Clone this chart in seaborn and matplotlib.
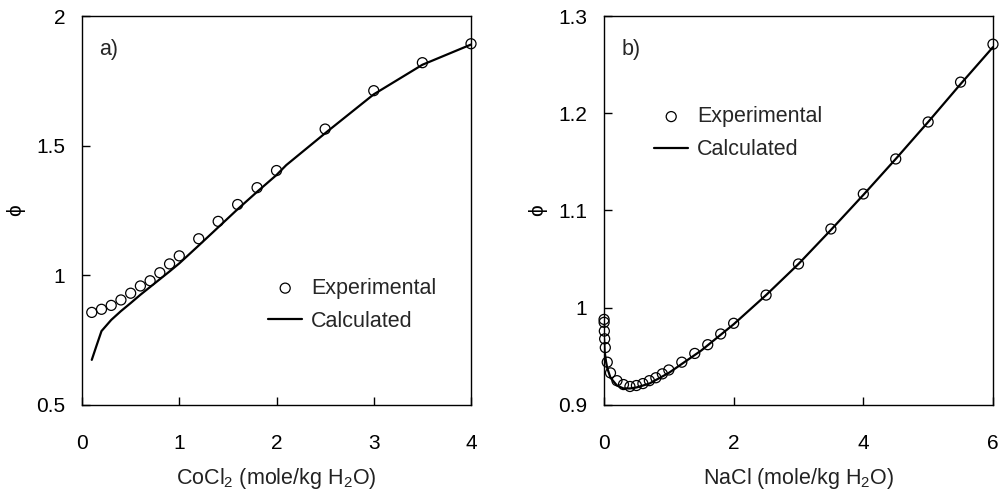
import numpy as np
import pandas as pd
import matplotlib
matplotlib.use("Agg")
import matplotlib.pyplot as plt
import seaborn as sns

# CoCl2 osmotic coefficient
cocl2_exp_m = [0.1, 0.2, 0.3, 0.4, 0.5, 0.6, 0.7, 0.8, 0.9, 1.0,
               1.2, 1.4, 1.6, 1.8, 2.0, 2.5, 3.0, 3.5, 4.0]
cocl2_exp_phi = [0.857, 0.869, 0.884, 0.905, 0.931, 0.959, 0.979, 1.010, 1.044, 1.075,
                 1.141, 1.208, 1.273, 1.338, 1.404, 1.564, 1.712, 1.820, 1.893]
cocl2_calc_m = [0.1, 0.15, 0.2, 0.3, 0.4, 0.5, 0.6, 0.7, 0.8, 0.9, 1.0,
                1.2, 1.4, 1.6, 1.8, 2.0, 2.1, 2.5, 3.0, 3.5, 4.0]
cocl2_calc_phi = [0.674, 0.730, 0.785, 0.828, 0.862, 0.893, 0.925, 0.955, 0.985, 1.015, 1.046,
                  1.115, 1.185, 1.255, 1.322, 1.387, 1.425, 1.548, 1.698, 1.812, 1.890]

# NaCl osmotic coefficient
nacl_exp_m = [0.001, 0.002, 0.005, 0.01, 0.02, 0.05, 0.1, 0.2, 0.3, 0.4, 0.5, 0.6, 0.7,
              0.8, 0.9, 1.0, 1.2, 1.4, 1.6, 1.8, 2.0, 2.5, 3.0, 3.5, 4.0, 4.5, 5.0, 5.5, 6.0]
nacl_exp_phi = [0.988, 0.985, 0.976, 0.968, 0.959, 0.944, 0.933, 0.925, 0.921, 0.919, 0.920,
                0.922, 0.925, 0.928, 0.932, 0.936, 0.944, 0.953, 0.962, 0.973, 0.984,
                1.013, 1.045, 1.081, 1.117, 1.153, 1.191, 1.232, 1.271]
nacl_calc_m = [0.001, 0.01, 0.03, 0.05, 0.1, 0.2, 0.3, 0.4, 0.5, 0.7, 1.0, 1.5,
               2.0, 2.5, 3.0, 3.5, 4.0, 4.5, 5.0, 5.5, 6.0]
nacl_calc_phi = [0.968, 0.955, 0.945, 0.938, 0.928, 0.920, 0.917, 0.917, 0.918, 0.922, 0.933, 0.956,
                 0.983, 1.013, 1.045, 1.080, 1.116, 1.153, 1.191, 1.230, 1.268]

sns.set_theme(style="white")
plt.rcParams["font.family"] = ["Liberation Sans", "DejaVu Sans"]
plt.rcParams["font.size"] = 15
plt.rcParams["mathtext.default"] = "regular"

fig = plt.figure(figsize=(10.03, 4.91), dpi=100)
ax_a = fig.add_axes([0.0818, 0.1752, 0.3878, 0.7922])
ax_b = fig.add_axes([0.6022, 0.1752, 0.3878, 0.7922])

panels = [
    (ax_a, cocl2_exp_m, cocl2_exp_phi, cocl2_calc_m, cocl2_calc_phi,
     (0, 4), (0.5, 2.0), [0, 1, 2, 3, 4], [0.5, 1.0, 1.5, 2.0], ["0.5", "1", "1.5", "2"],
     "a)", r"CoCl$_{2}$ (mole/kg H$_{2}$O)", (0.478, 0.327)),
    (ax_b, nacl_exp_m, nacl_exp_phi, nacl_calc_m, nacl_calc_phi,
     (0, 6), (0.9, 1.3), [0, 2, 4, 6], [0.9, 1.0, 1.1, 1.2, 1.3], ["0.9", "1", "1.1", "1.2", "1.3"],
     "b)", r"NaCl (mole/kg H$_{2}$O)", (0.1285, 0.768)),
]

for (ax, xe, ye, xc, yc, xlim, ylim, xt, yt, ytl, tag, xlabel, legpos) in panels:
    exp_df = pd.DataFrame({"m": xe, "phi": ye})
    calc_df = pd.DataFrame({"m": xc, "phi": yc})
    sns.lineplot(data=calc_df, x="m", y="phi", ax=ax, color="black", lw=1.6,
                 label="Calculated", zorder=2)
    sns.scatterplot(data=exp_df, x="m", y="phi", ax=ax, marker="o", s=52,
                    facecolor="none", edgecolor="black", linewidth=0.9,
                    label="Experimental", zorder=3, clip_on=False)
    ax.set_xlim(*xlim)
    ax.set_ylim(*ylim)
    ax.set_xticks(xt)
    ax.set_xticklabels([str(v) for v in xt])
    ax.set_yticks(yt)
    ax.set_yticklabels(ytl)
    ax.tick_params(axis="both", direction="in", length=6, width=1, colors="black",
                   labelsize=15, left=True, bottom=True, top=False, right=False)
    ax.tick_params(axis="x", pad=21)
    ax.tick_params(axis="y", pad=12)
    for sp in ax.spines.values():
        sp.set_color("black")
        sp.set_linewidth(1)
    ax.set_xlabel(xlabel, fontsize=15.5, labelpad=9, color="#222222")
    ax.set_ylabel("\u03d5", fontsize=15, labelpad=8, color="black")
    ax.text(0.045, 0.94, tag, transform=ax.transAxes, fontsize=15.5, va="top", ha="left")
    handles, labels = ax.get_legend_handles_labels()
    order = [labels.index("Experimental"), labels.index("Calculated")]
    ax.legend([handles[i] for i in order], [labels[i] for i in order],
              loc="upper left", bbox_to_anchor=legpos, frameon=False, fontsize=15.5,
              handlelength=1.6, handletextpad=0.4, labelspacing=0.55, borderaxespad=0,
              borderpad=0)

fig.savefig("out.png", dpi=100)
